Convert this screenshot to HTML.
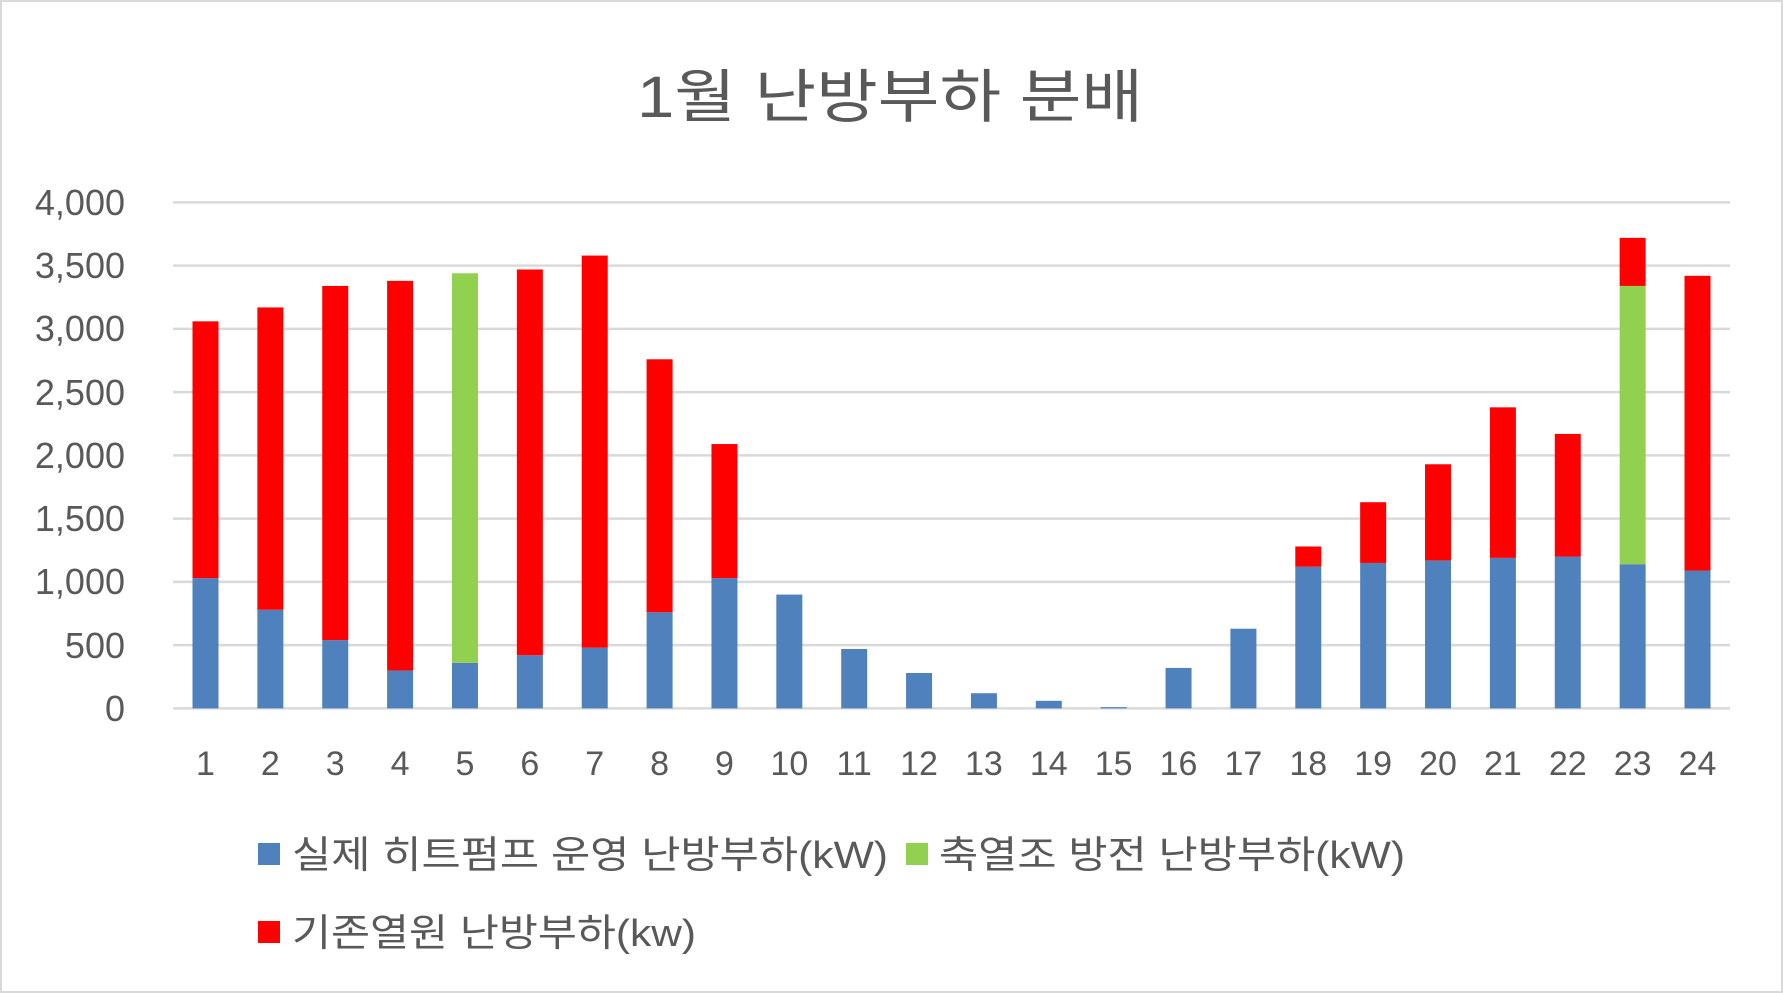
<!DOCTYPE html>
<html><head><meta charset="utf-8"><style>
html,body{margin:0;padding:0;background:#fff;}
svg{display:block;}
text{font-family:"Liberation Sans","Noto Sans CJK KR",sans-serif;fill:#595959;}
</style></head><body>
<svg width="1783" height="993" viewBox="0 0 1783 993" xmlns="http://www.w3.org/2000/svg">
<rect x="1" y="1" width="1781" height="991" fill="#fff" stroke="#d9d9d9" stroke-width="2"/>
<text x="637" y="117" font-size="58" textLength="506" lengthAdjust="spacingAndGlyphs" font-family="Noto Sans CJK KR">1월 난방부하 분배</text>
<g stroke="#d9d9d9" stroke-width="2.5">
<line x1="173" x2="1730" y1="202.4" y2="202.4"/>
<line x1="173" x2="1730" y1="265.6" y2="265.6"/>
<line x1="173" x2="1730" y1="328.9" y2="328.9"/>
<line x1="173" x2="1730" y1="392.1" y2="392.1"/>
<line x1="173" x2="1730" y1="455.4" y2="455.4"/>
<line x1="173" x2="1730" y1="518.6" y2="518.6"/>
<line x1="173" x2="1730" y1="581.9" y2="581.9"/>
<line x1="173" x2="1730" y1="645.1" y2="645.1"/>
<line x1="173" x2="1730" y1="708.4" y2="708.4"/>
</g>
<g font-size="36" text-anchor="end">
<text x="125" y="215">4,000</text>
<text x="125" y="278">3,500</text>
<text x="125" y="341">3,000</text>
<text x="125" y="405">2,500</text>
<text x="125" y="468">2,000</text>
<text x="125" y="531">1,500</text>
<text x="125" y="594">1,000</text>
<text x="125" y="658">500</text>
<text x="125" y="721">0</text>
</g>
<g id="bars"></g>
<g id="xl" font-size="34" text-anchor="middle"></g>
<rect x="258" y="843" width="22" height="22" fill="#4f81bd"/>
<text x="292" y="868" font-size="38" textLength="596" lengthAdjust="spacingAndGlyphs">실제 히트펌프 운영 난방부하(kW)</text>
<rect x="906" y="843" width="22" height="22" fill="#92d050"/>
<text x="939" y="868" font-size="38" textLength="466" lengthAdjust="spacingAndGlyphs">축열조 방전 난방부하(kW)</text>
<rect x="258" y="921" width="22" height="22" fill="#ff0000"/>
<text x="292" y="946" font-size="38" textLength="404" lengthAdjust="spacingAndGlyphs">기존열원 난방부하(kw)</text>
</svg>
<script>
var d=[[1030,0,3060],[780,0,3170],[540,0,3340],[300,0,3380],[360,3440,0],[420,0,3470],[480,0,3580],[760,0,2760],[1030,0,2090],[900,0,0],[470,0,0],[280,0,0],[120,0,0],[60,0,0],[10,0,0],[320,0,0],[630,0,0],[1120,0,1280],[1150,0,1630],[1170,0,1930],[1190,0,2380],[1200,0,2170],[1140,3340,3720],[1090,0,3420]];
var ns="http://www.w3.org/2000/svg",g=document.getElementById('bars'),xl=document.getElementById('xl');
function y(v){return 708.4-v*505.96/4000;}
function r(x,a,b,c){var e=document.createElementNS(ns,'rect');e.setAttribute('x',x-13);e.setAttribute('width',26);e.setAttribute('y',y(b));e.setAttribute('height',y(a)-y(b));e.setAttribute('fill',c);g.appendChild(e);}
d.forEach(function(v,i){var cx=205.5+i*64.87;r(cx,0,v[0],'#4f81bd');var top=v[0];if(v[1]){r(cx,v[0],v[1],'#92d050');top=v[1];}if(v[2]){r(cx,top,v[2],'#ff0000');}
var t=document.createElementNS(ns,'text');t.setAttribute('x',cx);t.setAttribute('y',775);t.textContent=i+1;xl.appendChild(t);});
</script>
</body></html>
